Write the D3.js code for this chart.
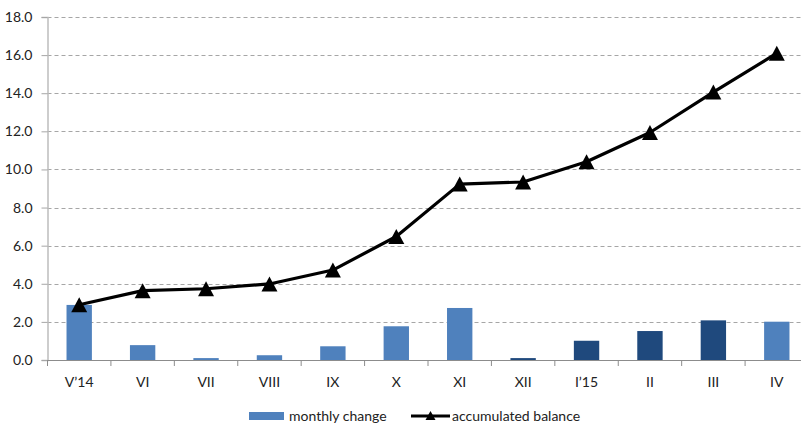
<!DOCTYPE html>
<html>
<head>
<meta charset="utf-8">
<script src="https://cdn.jsdelivr.net/npm/d3@7"></script>
<style>
  html, body { margin: 0; padding: 0; background: #fff; }
  svg { display: block; font-family: Lato, "Open Sans", sans-serif; }
</style>
</head>
<body>
<svg id="chart" width="801" height="423"></svg>
<script>
// Months on the category axis
const months = ["V’14", "VI", "VII", "VIII", "IX", "X", "XI", "XII", "I’15", "II", "III", "IV"];
// Monthly change (bars)
const monthlyChange = [2.89, 0.78, 0.10, 0.25, 0.72, 1.77, 2.73, 0.10, 1.01, 1.52, 2.08, 2.01];
// Accumulated balance (line)
const accumulated = [2.90, 3.64, 3.74, 3.99, 4.72, 6.48, 9.23, 9.34, 10.40, 11.94, 14.06, 16.10];
// Months drawn in the darker shade
const darkMonths = ["XII", "I’15", "II", "III"];
// Value axis ticks
const yTicks = [0, 2, 4, 6, 8, 10, 12, 14, 16, 18];

const svg = d3.select("#chart");
const plotLeft = 47.5, plotRight = 808.5, plotTop = 17, plotBottom = 360;

const x = d3.scaleBand().domain(months).range([plotLeft, plotRight]).paddingInner(0).paddingOuter(0);
const y = d3.scaleLinear().domain([0, 18]).range([plotBottom, plotTop]);
const bw = x.bandwidth();

// Horizontal dashed gridlines
svg.append("g").selectAll("line").data(yTicks.filter(t => t > 0)).join("line")
  .attr("x1", plotLeft).attr("x2", 801)
  .attr("y1", d => Math.round(y(d)) + 0.5).attr("y2", d => Math.round(y(d)) + 0.5)
  .attr("stroke", "#a6a6a6").attr("stroke-width", 1).attr("stroke-dasharray", "4,3");

// Value axis
const yAxis = d3.axisLeft(y).tickValues(yTicks).tickFormat(d3.format(".1f")).tickSize(6).tickPadding(9);
const gy = svg.append("g").attr("transform", `translate(${plotLeft},0)`).call(yAxis);
gy.select(".domain").attr("stroke", "#bdbdbd").attr("stroke-width", 1.5);
gy.selectAll(".tick line").attr("stroke", "#a6a6a6");
gy.selectAll(".tick text").attr("fill", "#222").attr("font-size", "14px")
  .attr("font-family", "Lato, sans-serif");

// Bars
svg.append("g").selectAll("rect").data(months).join("rect")
  .attr("x", (d) => x(d) + bw * 0.3)
  .attr("width", bw * 0.4)
  .attr("y", (d, i) => y(monthlyChange[i]))
  .attr("height", (d, i) => y(0) - y(monthlyChange[i]))
  .attr("fill", d => darkMonths.includes(d) ? "#1f497d" : "#4f81bd");

// Category axis
const boundaries = months.map(m => x(m)).concat([plotRight]);
const gx = svg.append("g");
gx.append("line").attr("x1", plotLeft).attr("x2", plotRight).attr("y1", plotBottom + 0.5).attr("y2", plotBottom + 0.5)
  .attr("stroke", "#8c8c8c").attr("stroke-width", 1.2);
gx.selectAll("line.tk").data(boundaries).join("line").attr("class", "tk")
  .attr("x1", d => d).attr("x2", d => d).attr("y1", plotBottom).attr("y2", plotBottom + 6)
  .attr("stroke", "#8c8c8c").attr("stroke-width", 1);
gx.selectAll("text").data(months).join("text")
  .attr("x", d => x(d) + bw / 2).attr("y", plotBottom + 27)
  .attr("text-anchor", "middle").attr("font-size", "14px").attr("fill", "#222")
  .text(d => d);

// Accumulated balance line
const pts = months.map((m, i) => [x(m) + bw / 2, y(accumulated[i])]);
svg.append("path").datum(pts)
  .attr("d", d3.line())
  .attr("fill", "none").attr("stroke", "#000").attr("stroke-width", 3.2)
  .attr("stroke-linejoin", "round");

function tri(cx, cy, w, h) {
  return `M${cx},${cy - h / 2}L${cx + w / 2},${cy + h / 2}L${cx - w / 2},${cy + h / 2}Z`;
}
svg.append("g").selectAll("path").data(pts).join("path")
  .attr("d", d => tri(d[0], d[1], 16, 15)).attr("fill", "#000");

// Legend
const lg = svg.append("g");
lg.append("rect").attr("x", 249).attr("y", 412).attr("width", 35).attr("height", 8).attr("fill", "#4f81bd");
lg.append("text").attr("x", 289).attr("y", 421).attr("font-size", "14px").attr("fill", "#222").text("monthly change");
lg.append("line").attr("x1", 411).attr("x2", 450).attr("y1", 416).attr("y2", 416)
  .attr("stroke", "#000").attr("stroke-width", 3.2);
lg.append("path").attr("d", tri(430.5, 415.5, 10, 9)).attr("fill", "#000");
lg.append("text").attr("x", 452).attr("y", 421).attr("font-size", "14px").attr("fill", "#222").text("accumulated balance");
</script>
</body>
</html>
